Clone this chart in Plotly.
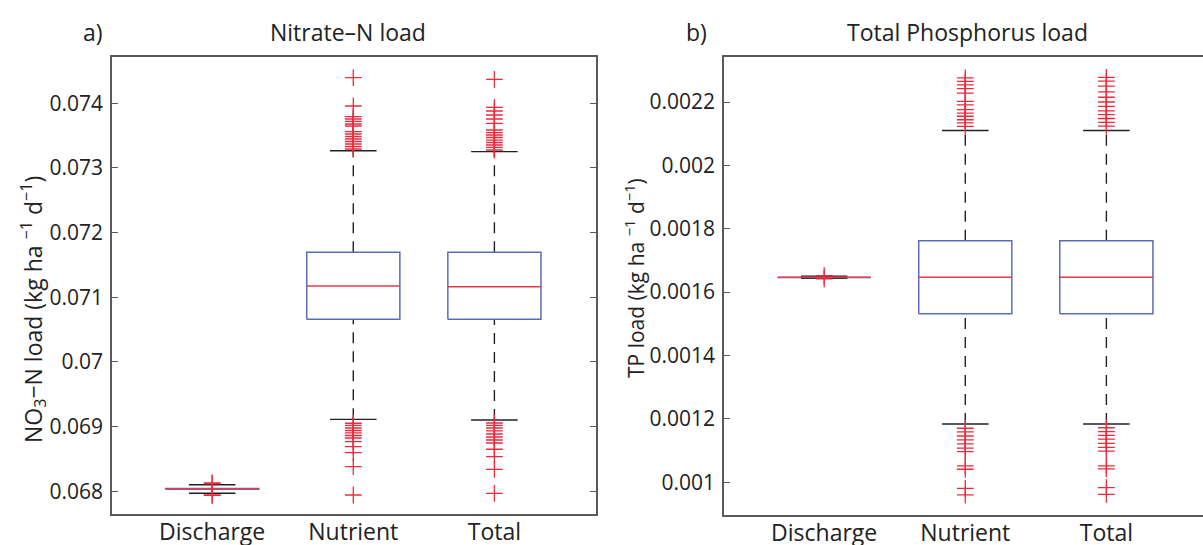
import plotly.graph_objects as go

W, H = 1203, 545

categories = ["Discharge", "Nutrient", "Total"]

# Panel a: Nitrate-N load (kg ha-1 d-1)
no3_q1 = [0.068030, 0.070660, 0.070660]
no3_median = [0.068036, 0.071175, 0.071164]
no3_q3 = [0.068042, 0.071696, 0.071696]
no3_lower = [0.067969, 0.069113, 0.069103]
no3_upper = [0.068102, 0.073267, 0.073252]
no3_out_discharge = [0.068128, 0.068118, 0.067945, 0.067937]
no3_out_nutrient = [0.074396, 0.073958, 0.073793, 0.073757, 0.073719, 0.073680, 0.073649,
                    0.073561, 0.073525, 0.073487, 0.073448, 0.073409, 0.073371, 0.073332, 0.073293,
                    0.069052, 0.069018, 0.068979, 0.068940, 0.068902, 0.068863, 0.068824,
                    0.068767, 0.068690, 0.068597, 0.068381, 0.067943]
no3_out_total = [0.074371, 0.073938, 0.073881, 0.073819, 0.073757, 0.073691, 0.073587,
                 0.073548, 0.073510, 0.073471, 0.073432, 0.073394, 0.073355, 0.073317, 0.073278,
                 0.069056, 0.069018, 0.068979, 0.068933, 0.068886, 0.068840, 0.068793,
                 0.068747, 0.068650, 0.068535, 0.068340, 0.067969]
no3_ticks = [0.068, 0.069, 0.07, 0.071, 0.072, 0.073, 0.074]

# Panel b: Total phosphorus load (kg ha-1 d-1)
tp_q1 = [0.0016465, 0.0015315, 0.0015315]
tp_median = [0.0016470, 0.0016470, 0.0016470]
tp_q3 = [0.0016475, 0.0017620, 0.0017620]
tp_lower = [0.0016440, 0.0011840, 0.0011840]
tp_upper = [0.0016500, 0.0021100, 0.0021100]
tp_out_discharge = [0.0016520, 0.0016420]
tp_out_nutrient = [0.002276, 0.002265, 0.002254, 0.002242, 0.002228, 0.002202, 0.002191,
                   0.002176, 0.002165, 0.002155, 0.002144, 0.002134, 0.002123,
                   0.0011705, 0.001159, 0.001146, 0.001134, 0.001121, 0.001108, 0.001097,
                   0.001052, 0.001041, 0.000981, 0.000960]
tp_out_total = [0.002278, 0.002266, 0.002250, 0.002232, 0.002215, 0.002200, 0.002186,
                0.002172, 0.002160, 0.002148, 0.002136, 0.002124,
                0.001172, 0.001160, 0.001148, 0.001136, 0.001123, 0.001110, 0.001098,
                0.001052, 0.001042, 0.000983, 0.000962]
tp_ticks = [0.001, 0.0012, 0.0014, 0.0016, 0.0018, 0.002, 0.0022]

FONT = "Open Sans"
BOX_C = "#5a6cb6"
MED_C = "#e8394c"
WH_C = "#222222"
OUT_C = "#ee2a3c"
AX_C = "#5a5a5a"
TXT_C = "#222222"
HALF = 0.33
CAP = 0.165


def add_panel(fig, xa, ya, q1, med, q3, lo, hi, outliers):
    xs_box, ys_box = [], []
    xs_med, ys_med = [], []
    xs_wh, ys_wh = [], []
    xs_cap, ys_cap = [], []
    xs_o, ys_o = [], []
    for i in range(len(categories)):
        xs_box += [i - HALF, i + HALF, i + HALF, i - HALF, i - HALF, None]
        ys_box += [q1[i], q1[i], q3[i], q3[i], q1[i], None]
        xs_med += [i - HALF, i + HALF, None]
        ys_med += [med[i], med[i], None]
        xs_wh += [i, i, None, i, i, None]
        ys_wh += [q3[i], hi[i], None, lo[i], q1[i], None]
        xs_cap += [i - CAP, i + CAP, None, i - CAP, i + CAP, None]
        ys_cap += [hi[i], hi[i], None, lo[i], lo[i], None]
        xs_o += [i] * len(outliers[i])
        ys_o += list(outliers[i])
    common = dict(xaxis=xa, yaxis=ya, showlegend=False, hoverinfo="skip")
    fig.add_trace(go.Scatter(x=xs_wh, y=ys_wh, mode="lines",
                             line=dict(color=WH_C, width=1.4, dash="11px,8px"), **common))
    fig.add_trace(go.Scatter(x=xs_cap, y=ys_cap, mode="lines",
                             line=dict(color=WH_C, width=1.4), **common))
    fig.add_trace(go.Scatter(x=xs_box, y=ys_box, mode="lines",
                             line=dict(color=BOX_C, width=1.5), **common))
    fig.add_trace(go.Scatter(x=xs_med, y=ys_med, mode="lines",
                             line=dict(color=MED_C, width=1.5), **common))
    fig.add_trace(go.Scatter(x=xs_o, y=ys_o, mode="markers",
                             marker=dict(symbol="cross-thin", size=12,
                                         line=dict(color=OUT_C, width=1.3)), **common))


fig = go.Figure()
add_panel(fig, "x", "y", no3_q1, no3_median, no3_q3, no3_lower, no3_upper,
          [no3_out_discharge, no3_out_nutrient, no3_out_total])
add_panel(fig, "x2", "y2", tp_q1, tp_median, tp_q3, tp_lower, tp_upper,
          [tp_out_discharge, tp_out_nutrient, tp_out_total])

px = lambda v: v / W
py = lambda v: 1 - v / H

xcommon = dict(tickmode="array", tickvals=[0, 1, 2], ticktext=categories,
               showline=True, linecolor=AX_C, linewidth=1.6, mirror=True,
               ticks="", showgrid=False, zeroline=False, automargin=False,
               tickfont=dict(family=FONT, size=23, color=TXT_C),
               ticklabelstandoff=-3)
ycommon = dict(showline=True, linecolor=AX_C, linewidth=1.6,
               ticks="inside", ticklen=6, tickcolor=AX_C, tickwidth=1.2,
               showgrid=False, zeroline=False, automargin=False,
               tickfont=dict(family=FONT, size=21, color=TXT_C),
               ticklabelstandoff=3, tickmode="array")


def label(text, x, y, size, angle=0):
    return dict(text=text, x=px(x), y=py(y), xref="paper", yref="paper", showarrow=False,
                xanchor="center", yanchor="middle", textangle=angle,
                font=dict(family=FONT, size=size, color=TXT_C))


fig.update_layout(
    width=W, height=H,
    margin=dict(l=0, r=0, t=0, b=0),
    paper_bgcolor="white", plot_bgcolor="white",
    xaxis=dict(domain=[px(112), px(596)], range=[-0.71, 2.72], anchor="y", **xcommon),
    yaxis=dict(domain=[py(514), py(57)], range=[0.067649, 0.074716], anchor="x",
               tickvals=no3_ticks, ticktext=[f"{v:g}" for v in no3_ticks],
               mirror="ticks", **ycommon),
    xaxis2=dict(domain=[px(724), 1.0], range=[-0.71, -0.71 + 479 / 141.1], anchor="y2", **xcommon),
    yaxis2=dict(domain=[py(515), py(57)], range=[0.0008967, 0.002342], anchor="x2",
                tickvals=tp_ticks, ticktext=[f"{v:g}" for v in tp_ticks],
                mirror=False, **ycommon),
    annotations=[
        label("a)", 93, 32, 23),
        label("Nitrate\u2013N load", 348, 32, 23),
        label("b)", 696, 32, 23),
        label("Total Phosphorus load", 967, 32, 23),
        label("NO<sub>3</sub>\u2212N load (kg ha <sup>\u22121</sup> d<sup>\u22121</sup>)", 33, 310, 23, -90),
        label("TP load (kg ha <sup>\u22121</sup> d<sup>\u22121</sup>)", 634, 278, 21, -90),
    ],
)

fig.write_html("out.html", config={"displayModeBar": False},
               post_script="document.body.style.margin='0px';document.body.style.overflow='hidden';")
